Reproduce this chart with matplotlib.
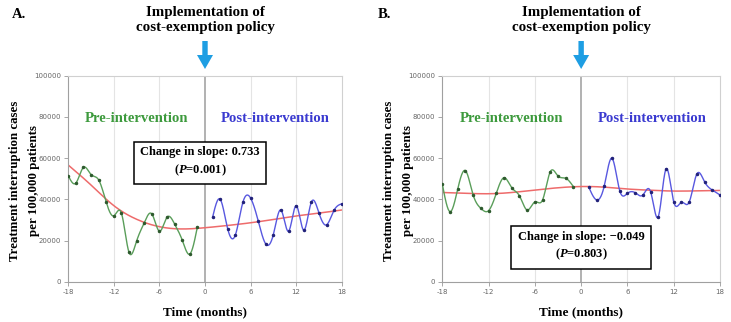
import numpy as np
import matplotlib
matplotlib.use("Agg")
import matplotlib.pyplot as plt
import matplotlib.patches as mpatches

plt.rcParams['axes.unicode_minus'] = False
plt.rcParams['mathtext.fontset'] = 'custom'
plt.rcParams['mathtext.it'] = 'Liberation Serif:italic:bold'
plt.rcParams['mathtext.rm'] = 'Liberation Serif:bold'

# data
months_pre = [-18, -17, -16, -15, -14, -13, -12, -11, -10, -9, -8, -7, -6, -5, -4, -3, -2, -1]
months_post = [1, 2, 3, 4, 5, 6, 7, 8, 9, 10, 11, 12, 13, 14, 15, 16, 17, 18]
trend_months = [-18, -15, -12, -9, -6, -3, 0, 3, 6, 9, 12, 15, 18]

a_pre = [51400, 47900, 55500, 52000, 49400, 38500, 32000, 33200, 14200,
         19800, 28600, 32900, 24500, 31300, 28000, 20200, 13400, 26700]
a_post = [31300, 40000, 25500, 22700, 38700, 40600, 29600, 18300, 22900,
          34800, 24500, 36900, 25000, 38600, 33400, 27600, 34700, 37800]
a_trend = [56600, 46900, 36900, 30300, 26700, 25600, 26200, 27300, 28600,
           30200, 31900, 33300, 34800]

b_pre = [47400, 34000, 45000, 53900, 42100, 35600, 34500, 42900, 50500,
         45600, 41700, 34800, 38700, 39700, 53400, 51300, 50200, 46100]
b_post = [45800, 39700, 46600, 59900, 44200, 42900, 43200, 42100, 43700,
          31600, 54700, 38800, 38500, 38600, 52300, 48500, 44500, 42100]
b_trend = [43300, 42900, 42700, 43300, 44500, 45600, 46200, 45900, 45000,
           44400, 44000, 44100, 44300]

x_ticks = [-18, -12, -6, 0, 6, 12, 18]
y_ticks = [0, 20000, 40000, 60000, 80000, 100000]

GREEN_LINE = '#5a9e5a'
BLUE_LINE = '#5858e0'
RED_LINE = '#ee6b6b'
SERIF = 'Liberation Serif'


def spline(x, y, n=400):
    # natural cubic spline, like the smoothed lines in the original
    x = np.asarray(x, float)
    y = np.asarray(y, float)
    h = np.diff(x)
    m = len(x)
    A = np.zeros((m, m))
    b = np.zeros(m)
    A[0, 0] = A[-1, -1] = 1
    for i in range(1, m - 1):
        A[i, i - 1] = h[i - 1]
        A[i, i] = 2 * (h[i - 1] + h[i])
        A[i, i + 1] = h[i]
        b[i] = 3 * ((y[i + 1] - y[i]) / h[i] - (y[i] - y[i - 1]) / h[i - 1])
    c = np.linalg.solve(A, b)
    xs = np.linspace(x[0], x[-1], n)
    idx = np.clip(np.searchsorted(x, xs) - 1, 0, m - 2)
    dx = xs - x[idx]
    bb = (y[1:] - y[:-1]) / h - h * (2 * c[:-1] + c[1:]) / 3
    d = (c[1:] - c[:-1]) / (3 * h)
    ys = y[idx] + bb[idx] * dx + c[idx] * dx ** 2 + d[idx] * dx ** 3
    return xs, ys


fig = plt.figure(figsize=(7.31, 3.22), dpi=100)
W, H = 731, 322


def panel(left_px, right_px, pre, post, trend, letter, letter_x, box_text, box_xy, box_w):
    ax = fig.add_axes([left_px / W, 1 - 281.7 / H, (right_px - left_px) / W, (281.7 - 75.7) / H])
    ax.set_xlim(-18, 18)
    ax.set_ylim(0, 100000)
    for g in [-12, -6, 6, 12]:
        ax.axvline(g, color='#e4e4e4', lw=0.8, zorder=0)
    ax.axvline(0, color='#ababab', lw=1.3, zorder=1)

    tx, ty = spline(trend_months, trend)
    ax.plot(tx, ty, color=RED_LINE, lw=1.1, zorder=2)
    px, py = spline(months_pre, pre)
    ax.plot(px, py, color=GREEN_LINE, lw=1.0, zorder=3)
    qx, qy = spline(months_post, post)
    ax.plot(qx, qy, color=BLUE_LINE, lw=1.0, zorder=3)
    ax.plot(months_pre, pre, 'o', ms=1.5, color='#2e5a2e', zorder=4)
    ax.plot(months_post, post, 'o', ms=1.5, color='#22227a', zorder=4)

    ax.set_xticks(x_ticks)
    ax.set_yticks(y_ticks)
    ax.tick_params(length=3, width=0.6, color='#999999', labelsize=5, labelcolor='#666666', pad=2)
    for s in ['top', 'right']:
        ax.spines[s].set_color('#d0d0d0')
        ax.spines[s].set_linewidth(0.8)
    for s in ['left', 'bottom']:
        ax.spines[s].set_color('#a0a0a0')
        ax.spines[s].set_linewidth(0.8)

    ax.text(-9, 79000, 'Pre-intervention', color='#3d9a3d', fontsize=10.6,
            fontweight='bold', family=SERIF, ha='center', va='center')
    ax.text(9.2, 79000, 'Post-intervention', color='#3a3ad0', fontsize=10.6,
            fontweight='bold', family=SERIF, ha='center', va='center')

    ax.text(box_xy[0], box_xy[1], box_text, fontsize=9, fontweight='bold', family=SERIF,
            ha='center', va='center', linespacing=1.35, zorder=6,
            bbox=dict(boxstyle='square,pad=%.2f' % box_w, facecolor='white',
                      edgecolor='black', linewidth=1.1))

    ax.text(0.5, -0.12, 'Time (months)', transform=ax.transAxes, fontsize=9.5,
            fontweight='bold', family=SERIF, ha='center', va='top')

    # y label placed left of the tick labels
    cx = left_px - 44
    fig.text(cx / W, 1 - 181 / H, 'Treatment interruption cases\nper 100,000 patients',
             rotation=90, fontsize=9.3, fontweight='bold', family=SERIF,
             ha='center', va='center', linespacing=1.8)

    zero_px = left_px + (right_px - left_px) / 2
    fig.text(letter_x / W, 1 - 14 / H, letter, fontsize=10.5, fontweight='bold',
             family=SERIF, ha='left', va='center')
    fig.text(zero_px / W, 1 - 20 / H, 'Implementation of\ncost-exemption policy',
             fontsize=10.8, fontweight='bold', family=SERIF, ha='center', va='center',
             linespacing=1.15)

    # blue down arrow
    cxi = zero_px / 100
    arrow = mpatches.Polygon([(cxi - 0.027, (H - 41) / 100), (cxi + 0.027, (H - 41) / 100),
                              (cxi + 0.027, (H - 55) / 100), (cxi + 0.08, (H - 55) / 100),
                              (cxi, (H - 69) / 100), (cxi - 0.08, (H - 55) / 100),
                              (cxi - 0.027, (H - 55) / 100)],
                             closed=True, facecolor='#1e9ee3', edgecolor='none',
                             transform=fig.dpi_scale_trans)
    fig.add_artist(arrow)
    return ax


panel(68.3, 341.7, a_pre, a_post, a_trend, 'A.', 12,
      'Change in slope: 0.733\n($\\mathit{P}$=0.001)', (-0.65, 58100), 0.5)
panel(442.3, 720.0, b_pre, b_post, b_trend, 'B.', 378,
      'Change in slope: \u22120.049\n($\\mathit{P}$=0.803)', (0.0, 17000), 0.55)

fig.savefig('out.png', dpi=100)
